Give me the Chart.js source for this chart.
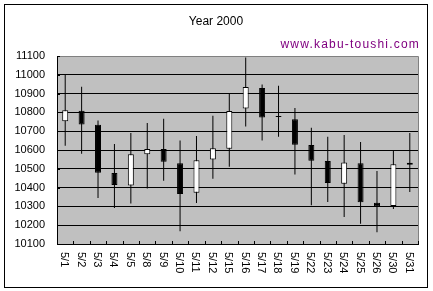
<!DOCTYPE html>
<html>
<head>
<meta charset="utf-8">
<script src="https://cdn.jsdelivr.net/npm/chart.js@4"></script>
<style>
html,body{margin:0;padding:0;background:#fff;}
#wrap{width:433px;height:291px;position:relative;}
</style>
</head>
<body>
<div id="wrap"><canvas id="c" width="433" height="291"></canvas></div>
<script>
const labels = ['5/1','5/2','5/3','5/4','5/5','5/8','5/9','5/10','5/11','5/12','5/15','5/16','5/17','5/18','5/19','5/22','5/23','5/24','5/25','5/26','5/30','5/31'];
const openV  = [10753,10809,10734,10477,10411,10577,10605,10529,10372,10550,10607,10821,10930,10775,10764,10627,10541,10420,10530,10320,10302,10532];
const closeV = [10812,10735,10479,10414,10577,10605,10537,10366,10545,10609,10807,10935,10773,10775,10628,10543,10425,10534,10322,10300,10524,10522];
const highV  = [11000,10937,10757,10632,10691,10744,10766,10650,10675,10782,10903,11092,10948,10942,10823,10718,10671,10680,10643,10488,10600,10691];
const lowV   = [10623,10580,10345,10292,10315,10395,10436,10168,10318,10447,10511,10725,10650,10671,10470,10306,10324,10243,10208,10163,10286,10377];
const yTicks = [10100,10200,10300,10400,10500,10600,10700,10800,10900,11000,11100];
const titleText = 'Year 2000';
const siteText = 'www.kabu-toushi.com';

const bodies = labels.map((_, i) => [openV[i], closeV[i]]);
const wicks = labels.map((_, i) => [lowV[i], highV[i]]);
const bodyFill = labels.map((_, i) => closeV[i] > openV[i] ? '#ffffff' : '#000000');

const decor = {
  id: 'decor',
  beforeDraw(chart) {
    const ctx = chart.ctx, a = chart.chartArea;
    ctx.save();
    ctx.fillStyle = '#ffffff';
    ctx.fillRect(0, 0, chart.width, chart.height);
    ctx.fillStyle = '#c0c0c0';
    ctx.fillRect(a.left, a.top, a.right - a.left, a.bottom - a.top);
    ctx.restore();
  },
  afterDraw(chart) {
    const ctx = chart.ctx, a = chart.chartArea;
    const xs = chart.scales.x, ys = chart.scales.y;
    ctx.save();
    ctx.strokeStyle = '#000';
    ctx.lineWidth = 1;
    ctx.strokeRect(4.5, 4.5, 423, 283);
    ctx.strokeStyle = '#808080';
    ctx.beginPath();
    ctx.moveTo(a.left, Math.round(a.top) + 0.5);
    ctx.lineTo(a.right + 0.5, Math.round(a.top) + 0.5);
    ctx.lineTo(a.right + 0.5, a.bottom);
    ctx.stroke();
    ctx.strokeStyle = '#000';
    ctx.beginPath();
    for (let i = 0; i <= labels.length; i++) {
      const x = Math.round(xs.getPixelForValue(i - 0.5)) + 0.5;
      ctx.moveTo(x, a.bottom);
      ctx.lineTo(x, a.bottom - 3);
    }
    yTicks.forEach(v => {
      const y = Math.round(ys.getPixelForValue(v)) + 0.5;
      ctx.moveTo(a.left, y);
      ctx.lineTo(a.left + 3, y);
    });
    ctx.stroke();
    ctx.fillStyle = '#000';
    ctx.font = '11px "Liberation Sans", Arial, sans-serif';
    ctx.textAlign = 'left';
    ctx.textBaseline = 'middle';
    labels.forEach((lab, i) => {
      const x = xs.getPixelForValue(i);
      ctx.save();
      ctx.translate(x - 1, a.bottom + 8);
      ctx.rotate(Math.PI / 2);
      ctx.fillText(lab, 0, 0);
      ctx.restore();
    });
    ctx.font = '12px "Liberation Sans", Arial, sans-serif';
    ctx.textAlign = 'center';
    ctx.fillText(titleText, 216, 22);
    ctx.fillStyle = '#800080';
    ctx.textAlign = 'right';
    ctx.letterSpacing = '1.2px';
    ctx.fillText(siteText, 420, 44.5);
    ctx.restore();
  }
};

new Chart(document.getElementById('c'), {
  type: 'bar',
  data: {
    labels: labels,
    datasets: [
      {
        label: 'body',
        data: bodies,
        backgroundColor: bodyFill,
        borderColor: '#000',
        borderWidth: 1,
        borderSkipped: false,
        barThickness: 6,
        minBarLength: 1,
        grouped: false,
        inflateAmount: 0,
        order: 0
      },
      {
        label: 'wick',
        data: wicks,
        backgroundColor: '#000',
        borderWidth: 0,
        barThickness: 1,
        grouped: false,
        inflateAmount: 0,
        order: 1
      }
    ]
  },
  options: {
    responsive: false,
    animation: false,
    events: [],
    layout: { padding: { top: 56, right: 15, left: 0, bottom: 0 } },
    plugins: { legend: { display: false }, tooltip: { enabled: false }, title: { display: false } },
    scales: {
      x: {
        offset: true,
        grid: { display: false, drawOnChartArea: false, drawTicks: false },
        border: { display: true, color: '#000', width: 1 },
        ticks: { display: false },
        afterFit(s) { s.height = 47; }
      },
      y: {
        min: 10100,
        max: 11100,
        afterBuildTicks(s) { s.ticks = yTicks.map(v => ({ value: v })); },
        grid: {
          color: ctx => (ctx.tick && ctx.tick.value === 11100) ? '#808080' : '#000',
          lineWidth: 1,
          drawTicks: false
        },
        border: { display: true, color: '#000', width: 1 },
        ticks: {
          color: '#000',
          padding: 12,
          font: { family: '"Liberation Sans", Arial, sans-serif', size: 11 },
          callback: v => String(v)
        },
        afterFit(s) { s.width = 57; }
      }
    }
  },
  plugins: [decor]
});
</script>
</body>
</html>
